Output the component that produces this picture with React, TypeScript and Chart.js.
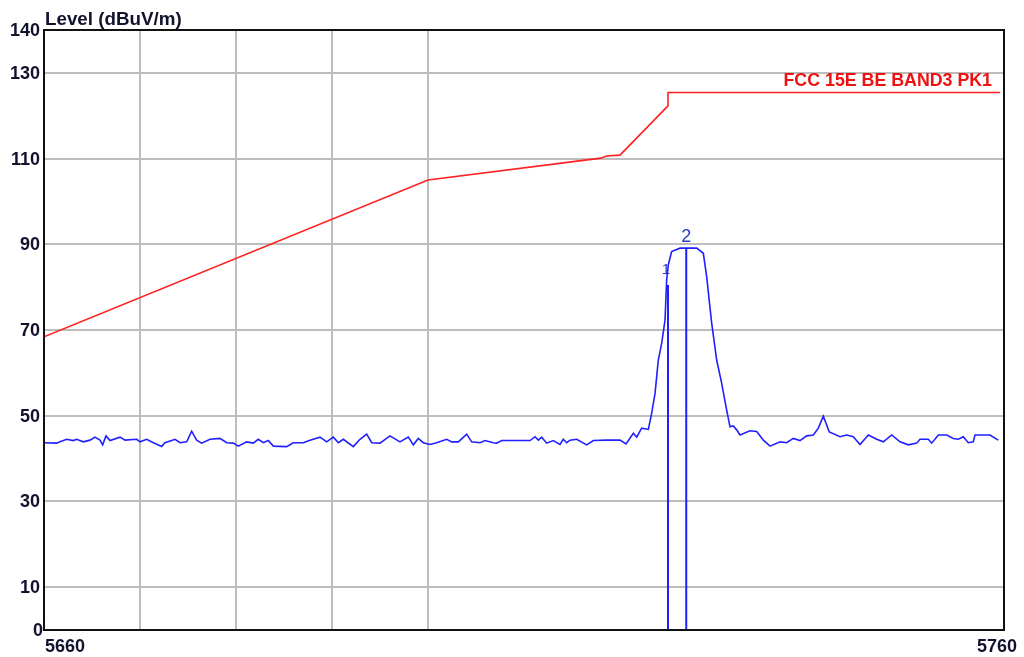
import React, { useEffect, useRef } from "react";
import { Chart, registerables } from "chart.js";

Chart.register(...registerables);

const X_MIN = 5660;
const X_MAX = 5760;
const Y_MIN = 0;
const Y_MAX = 140;

const yTickValues = [0, 10, 30, 50, 70, 90, 110, 130, 140];
const yTickLabels = ["0", "10", "30", "50", "70", "90", "110", "130", "140"];
const xGridValues = [5670, 5680, 5690, 5700];
const xTickValues = [5660, 5760];
const xTickLabels = ["5660", "5760"];

const yAxisTitle = "Level (dBuV/m)";
const limitName = "FCC 15E BE BAND3 PK1";

const limitFreq = [5660, 5700, 5718.0, 5718.6, 5720, 5725, 5725, 5759.6];
const limitLevel = [68.4, 105.0, 110.1, 110.6, 110.8, 122.3, 125.4, 125.4];

const traceFreq = [
  5660.0, 5661.32, 5661.67, 5662.36, 5663.05, 5663.4, 5664.1, 5664.79, 5665.31, 5665.83,
  5666.11, 5666.46, 5666.88, 5667.92, 5668.44, 5669.66, 5670.0, 5670.7, 5671.39, 5672.26,
  5672.6, 5673.3, 5673.65, 5674.17, 5674.86, 5675.38, 5675.9, 5676.42, 5677.29, 5678.33,
  5679.03, 5679.72, 5680.24, 5681.11, 5681.8, 5682.32, 5682.85, 5683.36, 5683.89, 5685.28,
  5685.97, 5687.01, 5687.71, 5688.75, 5689.45, 5690.14, 5690.66, 5691.18, 5692.22, 5692.92,
  5693.61, 5694.14, 5695.0, 5696.04, 5697.08, 5697.95, 5698.47, 5698.99, 5699.51, 5700.21,
  5700.9, 5701.95, 5702.47, 5703.16, 5704.03, 5704.55, 5705.42, 5705.94, 5706.8, 5707.15,
  5707.68, 5710.63, 5711.15, 5711.49, 5711.84, 5712.36, 5713.05, 5713.75, 5714.09, 5714.45,
  5714.79, 5715.49, 5716.53, 5717.22, 5718.61, 5720.0, 5720.63, 5721.39, 5721.74, 5722.26,
  5722.95, 5723.3, 5723.65, 5723.99, 5724.34, 5724.69, 5724.86, 5725.03, 5725.38, 5726.25,
  5727.99, 5728.68, 5729.03, 5729.55, 5730.07, 5730.59, 5731.11, 5731.46, 5731.8, 5732.15,
  5732.5, 5733.54, 5734.24, 5734.93, 5735.63, 5736.67, 5737.36, 5738.05, 5738.75, 5739.45,
  5740.14, 5740.66, 5741.18, 5741.8, 5742.92, 5743.61, 5744.3, 5745.0, 5745.87, 5746.74,
  5747.43, 5748.3, 5749.17, 5750.03, 5750.91, 5751.25, 5752.11, 5752.47, 5753.16, 5754.03,
  5754.72, 5755.24, 5755.76, 5756.28, 5756.8, 5756.98, 5758.54, 5759.4,
];
const traceLevel = [
  43.7, 43.6, 43.9, 44.5, 44.2, 44.5, 43.9, 44.3, 45.0, 44.3,
  43.2, 45.3, 44.2, 45.0, 44.3, 44.5, 43.9, 44.5, 43.7, 42.8,
  43.7, 44.2, 44.5, 43.7, 43.9, 46.4, 44.3, 43.6, 44.5, 44.7,
  43.7, 43.6, 42.9, 43.9, 43.6, 44.5, 43.7, 44.2, 42.9, 42.8,
  43.7, 43.7, 44.3, 45.0, 43.9, 45.0, 43.7, 44.5, 42.8, 44.5,
  45.7, 43.7, 43.6, 45.3, 43.9, 45.0, 43.2, 44.7, 43.7, 43.3,
  43.7, 44.5, 43.9, 43.9, 45.7, 43.9, 43.7, 44.2, 43.7, 43.6,
  44.2, 44.2, 45.1, 44.3, 45.0, 43.6, 44.2, 43.3, 44.5, 43.7,
  44.3, 44.5, 43.2, 44.2, 44.3, 44.3, 43.4, 45.9, 45.0, 47.1,
  46.8, 50.6, 55.2, 63.0, 66.9, 72.3, 81.7, 85.2, 88.3, 89.1,
  89.1, 87.9, 82.4, 71.6, 63.0, 57.6, 51.3, 47.4, 47.6, 46.7,
  45.5, 46.5, 46.3, 44.3, 42.9, 43.9, 43.7, 44.7, 44.2, 45.3,
  45.5, 47.1, 49.9, 46.2, 45.1, 45.5, 45.1, 43.3, 45.5, 44.5,
  43.9, 45.5, 43.9, 43.2, 43.6, 44.5, 44.5, 43.6, 45.5, 45.5,
  44.7, 44.5, 45.1, 43.7, 43.9, 45.5, 45.5, 44.3,
];

const markerNames = ["1", "2"];
const markerFreq = [5725.0, 5726.9];
const markerLevel = [80.5, 89.1];

const TEXT_COLOR = "#12122e";
const FONT_FAMILY = '"Liberation Sans", Arial, sans-serif';

export default function App() {
  const canvasRef = useRef<HTMLCanvasElement | null>(null);

  useEffect(() => {
    const canvas = canvasRef.current;
    if (!canvas) return;

    const toPoints = (xs: number[], ys: number[]) => xs.map((x, i) => ({ x, y: ys[i] }));

    const markerDatasets = markerFreq.map((f, i) => ({
      label: "Marker " + markerNames[i],
      data: [
        { x: f, y: Y_MIN },
        { x: f, y: markerLevel[i] },
      ],
      borderColor: "#1f1fff",
      borderWidth: 2,
      pointRadius: 0,
      showLine: true,
      tension: 0,
    }));

    const textPlugin = {
      id: "textPlugin",
      beforeDatasetsDraw(chart: any) {
        const { ctx, scales } = chart;
        const xs = scales.x;
        const ys = scales.y;
        ctx.save();
        ctx.fillStyle = "#2a3acc";
        ctx.textAlign = "center";
        ctx.textBaseline = "alphabetic";
        markerNames.forEach((name, i) => {
          const px = xs.getPixelForValue(markerFreq[i]);
          const py = ys.getPixelForValue(markerLevel[i]);
          if (i === 0) {
            ctx.font = `15px ${FONT_FAMILY}`;
            ctx.fillText(name, px - 2, py - 11);
          } else {
            ctx.font = `18px ${FONT_FAMILY}`;
            ctx.fillText(name, px, py - 6);
          }
        });
        ctx.restore();
      },
      afterDraw(chart: any) {
        const { ctx, chartArea, scales } = chart;
        const xs = scales.x;
        const ys = scales.y;
        ctx.save();
        // frame
        ctx.strokeStyle = "#111111";
        ctx.lineWidth = 2;
        ctx.strokeRect(chartArea.left, chartArea.top, chartArea.right - chartArea.left, chartArea.bottom - chartArea.top);

        ctx.fillStyle = TEXT_COLOR;
        ctx.font = `bold 18px ${FONT_FAMILY}`;
        // y tick labels
        ctx.textAlign = "right";
        ctx.textBaseline = "middle";
        yTickValues.forEach((v, i) => {
          const dx = v === 0 ? -1 : -4;
          ctx.fillText(yTickLabels[i], chartArea.left + dx, ys.getPixelForValue(v) + 1);
        });
        // x tick labels
        ctx.textBaseline = "alphabetic";
        xTickValues.forEach((v, i) => {
          const px = xs.getPixelForValue(v);
          if (i === 0) {
            ctx.textAlign = "left";
            ctx.fillText(xTickLabels[i], px + 1, chartArea.bottom + 22);
          } else {
            ctx.textAlign = "right";
            ctx.fillText(xTickLabels[i], px + 13, chartArea.bottom + 22);
          }
        });
        // axis title
        ctx.textAlign = "left";
        ctx.font = `bold 18.8px ${FONT_FAMILY}`;
        ctx.fillText(yAxisTitle, chartArea.left + 1, chartArea.top - 5);
        // limit line name
        ctx.fillStyle = "#ee1111";
        ctx.font = `bold 17.8px ${FONT_FAMILY}`;
        ctx.textAlign = "right";
        const ly = ys.getPixelForValue(limitLevel[limitLevel.length - 1]);
        ctx.fillText(limitName, chartArea.right - 12, ly - 7);
        ctx.restore();
      },
    };

    const chart = new Chart(canvas, {
      type: "scatter",
      data: {
        datasets: [
          {
            label: limitName,
            data: toPoints(limitFreq, limitLevel),
            borderColor: "#ff2020",
            borderWidth: 1.6,
            pointRadius: 0,
            showLine: true,
            tension: 0,
          },
          ...markerDatasets,
          {
            label: "Trace",
            data: toPoints(traceFreq, traceLevel),
            borderColor: "#1f1fff",
            borderWidth: 1.6,
            pointRadius: 0,
            showLine: true,
            tension: 0,
          },
        ],
      },
      options: {
        responsive: false,
        animation: false,
        events: [],
        layout: { padding: { left: 44, top: 30, right: 20, bottom: 27 } },
        plugins: {
          legend: { display: false },
          tooltip: { enabled: false },
        },
        scales: {
          x: {
            type: "linear",
            min: X_MIN,
            max: X_MAX,
            afterBuildTicks: (scale: any) => {
              scale.ticks = xGridValues.map((v) => ({ value: v }));
            },
            ticks: { display: false },
            grid: { drawTicks: false, color: "#bdbdbd", lineWidth: 2 },
            border: { display: false },
          },
          y: {
            type: "linear",
            min: Y_MIN,
            max: Y_MAX,
            afterBuildTicks: (scale: any) => {
              scale.ticks = yTickValues.map((v) => ({ value: v }));
            },
            ticks: { display: false },
            grid: {
              drawTicks: false,
              lineWidth: 2,
              color: (ctx: any) => {
                const v = ctx.tick ? ctx.tick.value : 0;
                return v === Y_MIN || v === Y_MAX ? "rgba(0,0,0,0)" : "#bdbdbd";
              },
            },
            border: { display: false },
          },
        },
      },
      plugins: [textPlugin],
    } as any);

    return () => {
      chart.destroy();
    };
  }, []);

  return (
    <div style={{ position: "fixed", left: 0, top: 0, width: 1024, height: 657, background: "#ffffff" }}>
      <canvas ref={canvasRef} width={1024} height={657} style={{ display: "block" }} />
    </div>
  );
}
